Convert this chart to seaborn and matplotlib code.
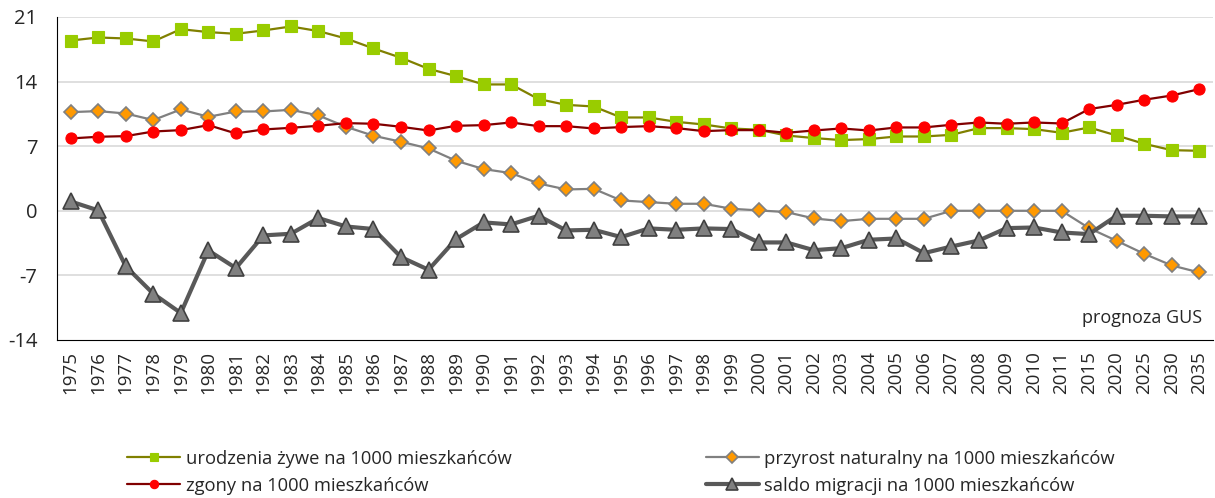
import numpy as np
import pandas as pd
import matplotlib
matplotlib.use('Agg')
import matplotlib.pyplot as plt
import seaborn as sns

# dane
lata = ['1975', '1976', '1977', '1978', '1979', '1980', '1981', '1982', '1983', '1984',
        '1985', '1986', '1987', '1988', '1989', '1990', '1991', '1992', '1993', '1994',
        '1995', '1996', '1997', '1998', '1999', '2000', '2001', '2002', '2003', '2004',
        '2005', '2006', '2007', '2008', '2009', '2010', '2011', '2015', '2020', '2025',
        '2030', '2035']

urodzenia = [18.45, 18.78, 18.67, 18.35, 19.68, 19.36, 19.18, 19.54, 19.97, 19.47,
             18.67, 17.59, 16.58, 15.38, 14.59, 13.69, 13.69, 12.10, 11.48, 11.30,
             10.11, 10.11, 9.64, 9.35, 8.92, 8.78, 8.16, 7.88, 7.66, 7.77,
             8.05, 8.05, 8.23, 8.96, 8.96, 8.85, 8.45, 9.03, 8.16, 7.26,
             6.57, 6.50]

zgony = [7.84, 8.02, 8.09, 8.59, 8.74, 9.28, 8.38, 8.81, 8.99, 9.21,
         9.50, 9.43, 9.10, 8.70, 9.21, 9.28, 9.57, 9.17, 9.17, 8.92,
         9.07, 9.17, 8.96, 8.63, 8.74, 8.74, 8.45, 8.70, 8.92, 8.70,
         9.03, 9.03, 9.32, 9.57, 9.43, 9.57, 9.46, 11.02, 11.48, 12.03,
         12.49, 13.18]

przyrost = [10.69, 10.80, 10.54, 9.83, 10.98, 10.18, 10.76, 10.76, 10.94, 10.33,
            9.10, 8.13, 7.48, 6.75, 5.42, 4.52, 4.08, 2.96, 2.31, 2.38,
            1.12, 0.94, 0.76, 0.76, 0.22, 0.04, -0.14, -0.83, -1.12, -0.87,
            -0.87, -0.87, 0.0, 0.0, 0.0, 0.0, 0.0, -1.88, -3.25, -4.66,
            -5.92, -6.68]

saldo = [1.01, 0.04, -6.03, -8.99, -11.08, -4.30, -6.21, -2.67, -2.49, -0.79,
         -1.70, -1.98, -5.02, -6.39, -3.07, -1.26, -1.48, -0.54, -2.13, -2.06,
         -2.85, -1.91, -2.06, -1.91, -1.98, -3.43, -3.43, -4.27, -4.05, -3.14,
         -3.00, -4.59, -3.87, -3.21, -1.88, -1.81, -2.35, -2.53, -0.54, -0.54,
         -0.61, -0.61]

df = pd.DataFrame({'poz': np.arange(len(lata)), 'rok': lata,
                   'urodzenia': urodzenia, 'zgony': zgony,
                   'przyrost': przyrost, 'saldo': saldo})

sns.set_style("white")
plt.rcParams['font.family'] = ['Open Sans', 'DejaVu Sans']
plt.rcParams['axes.unicode_minus'] = False

fig = plt.figure(figsize=(12.15, 4.98), dpi=100)
ax = fig.add_axes([0.0469, 0.3173, 0.9514, 0.6486])

sns.lineplot(data=df, x='poz', y='urodzenia', ax=ax, color='#808000', lw=1.6,
             marker='s', markersize=8, markerfacecolor='#99CC00',
             markeredgecolor='#99CC00', markeredgewidth=0.8,
             label='urodzenia żywe na 1000 mieszkańców', zorder=3)
sns.lineplot(data=df, x='poz', y='przyrost', ax=ax, color='#808080', lw=1.6,
             marker='D', markersize=7.5, markerfacecolor='#FF9900',
             markeredgecolor='#808080', markeredgewidth=1.2,
             label='przyrost naturalny na 1000 mieszkańców', zorder=4)
sns.lineplot(data=df, x='poz', y='zgony', ax=ax, color='#800000', lw=1.6,
             marker='o', markersize=8, markerfacecolor='#FF0000',
             markeredgecolor='#FF0000', markeredgewidth=0.8,
             label='zgony na 1000 mieszkańców', zorder=5)
sns.lineplot(data=df, x='poz', y='saldo', ax=ax, color='#595959', lw=3,
             marker='^', markersize=11, markerfacecolor='#808080',
             markeredgecolor='#404040', markeredgewidth=1.2,
             label='saldo migracji na 1000 mieszkańców', zorder=6)

ax.set_xlim(-0.5, len(lata) - 0.5)
ax.set_ylim(-14, 21)
ax.set_yticks(np.arange(-14, 22, 7))
ax.set_xticks(df['poz'])
ax.set_xticklabels(lata, rotation=90)
ax.set_xticks(np.arange(-0.5, len(lata), 1), minor=True)
ax.tick_params(axis='x', which='major', length=0, pad=8, labelsize=13.5)
ax.tick_params(axis='x', which='minor', length=5, color='#404040', width=1, direction='out')
ax.tick_params(axis='y', length=5, color='#404040', width=1, direction='out', pad=9, labelsize=14.5)
ax.set_xlabel('')
ax.set_ylabel('')

for v in np.arange(-7, 22, 7):
    ax.axhline(v, color='#D9D9D9', lw=1.2, zorder=0)

sns.despine(ax=ax, top=True, right=True)
ax.spines['left'].set_color('black')
ax.spines['bottom'].set_color('black')

ax.text(0.991, 0.068, 'prognoza GUS', transform=ax.transAxes,
        ha='right', va='center', fontsize=13)

handles, labels = ax.get_legend_handles_labels()
ax.get_legend().remove()
order = [0, 2, 1, 3]
fig.legend([handles[i] for i in order], [labels[i] for i in order],
           loc='center left', bbox_to_anchor=(0.091, 0.052), ncol=2,
           frameon=False, fontsize=13.2, handlelength=2.9, handletextpad=0.3,
           columnspacing=10.6, labelspacing=0.5, markerscale=0.75)

plt.savefig('out.png', dpi=100)
